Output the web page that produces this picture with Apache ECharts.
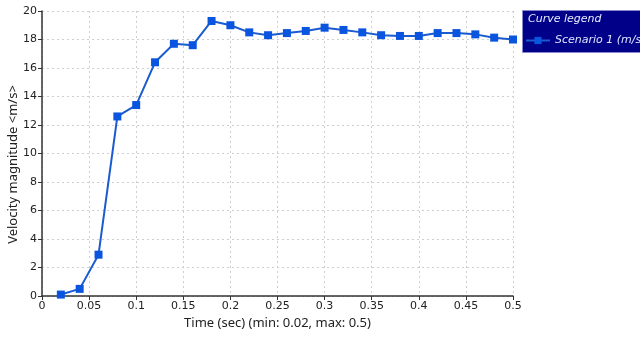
<!DOCTYPE html>
<html><head><meta charset="utf-8">
<script src="https://cdn.jsdelivr.net/npm/echarts@6/dist/echarts.min.js"></script>
<style>html,body{margin:0;padding:0;background:#fff}#c{width:640px;height:337px}</style>
</head><body><div id="c"></div>
<script>
var times = [0.02,0.04,0.06,0.08,0.10,0.12,0.14,0.16,0.18,0.20,0.22,0.24,0.26,0.28,0.30,0.32,0.34,0.36,0.38,0.40,0.42,0.44,0.46,0.48,0.50];
var velocity = [0.1,0.5,2.9,12.6,13.4,16.4,17.7,17.6,19.3,19.0,18.5,18.3,18.45,18.6,18.83,18.67,18.5,18.3,18.25,18.25,18.45,18.45,18.36,18.13,18.0];
var seriesName = 'Scenario 1 (m/s)';
var legendTitle = 'Curve legend';
var xName = 'Time (sec) (min: 0.02, max: 0.5)';
var yName = 'Velocity magnitude <m/s>';

var font = 'DejaVu Sans';
var nameFont = 'Noto Sans';
var chart = echarts.init(document.getElementById('c'));
chart.setOption({
  animation: false,
  textStyle: {fontFamily: font},
  grid: {left: 42, right: 127, top: 11, bottom: 41, containLabel: false, outerBoundsMode: 'none'},
  xAxis: {
    type: 'value', min: 0, max: 0.5, interval: 0.05,
    name: xName, nameLocation: 'middle', nameGap: 21, nameMoveOverlap: false,
    nameTextStyle: {color: '#222', fontSize: 13, fontFamily: nameFont},
    axisLine: {show: true, lineStyle: {color: '#333', width: 1.5}},
    axisTick: {show: true, length: 4, inside: false, lineStyle: {color: '#333'}},
    axisLabel: {color: '#222', fontSize: 11, margin: 5, fontFamily: font,
      formatter: function (v) { return +v.toFixed(2) + ''; }},
    splitLine: {show: true, lineStyle: {color: '#cfcfcf', type: [2, 3]}}
  },
  yAxis: {
    type: 'value', min: 0, max: 20, interval: 2,
    name: yName, nameLocation: 'middle', nameGap: 22, nameRotate: 90, nameMoveOverlap: false,
    nameTextStyle: {color: '#222', fontSize: 13, fontFamily: nameFont, padding: [0, 22, 0, 0]},
    axisLine: {show: true, lineStyle: {color: '#333', width: 1.5}},
    axisTick: {show: true, length: 4, lineStyle: {color: '#333'}},
    axisLabel: {color: '#222', fontSize: 11, margin: 5, fontFamily: font},
    splitLine: {show: true, lineStyle: {color: '#cfcfcf', type: [2, 3]}}
  },
  legend: {
    data: [seriesName], left: 525, top: 35, itemWidth: 24, itemHeight: 9, itemGap: 4,
    textStyle: {color: '#dfe6ff', fontStyle: 'italic', fontSize: 11, fontFamily: font},
    padding: 0
  },
  graphic: [
    {type: 'rect', left: 522, top: 10, z: -1, shape: {width: 130, height: 42},
     style: {fill: '#000088', stroke: '#8888cc', lineWidth: 1}},
    {type: 'text', left: 528, top: 14, z: 10,
     style: {text: legendTitle, fill: '#e8ecff', font: 'italic 11px DejaVu Sans'}}
  ],
  series: [{
    name: seriesName, type: 'line',
    data: times.map(function (t, i) { return [t, velocity[i]]; }),
    symbol: 'rect', symbolSize: 8,
    lineStyle: {color: '#1a5bd0', width: 2},
    itemStyle: {color: '#0a55e0'}
  }]
});
</script></body></html>
